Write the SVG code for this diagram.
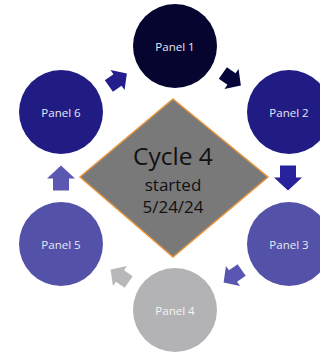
<svg xmlns="http://www.w3.org/2000/svg" width="320" height="352" viewBox="0 0 320 352">
<defs>
<style>
.lbl{font-family:"Open Sans","Liberation Sans",sans-serif;font-size:11.5px;fill:#e8e8f6;text-anchor:middle}
.ctr{font-family:"Open Sans","Liberation Sans",sans-serif;fill:#111111;text-anchor:middle}
</style>
<polygon id="arr" points="-12,-8 0,-8 0,-14 13,0 0,14 0,8 -12,8"/>
</defs>
<rect width="320" height="352" fill="#ffffff"/>
<g id="connectors">
<use href="#arr" transform="translate(231.5,79) rotate(35) scale(0.88)" fill="#06053a"/>
<use href="#arr" transform="translate(288,177.5) rotate(90)" fill="#28219c"/>
<use href="#arr" transform="translate(233,276) rotate(145) scale(0.88)" fill="#5856b0"/>
<use href="#arr" transform="translate(120,276) rotate(215) scale(0.88)" fill="#b8b8bb"/>
<use href="#arr" transform="translate(61,178.5) rotate(270)" fill="#5b58b2"/>
<use href="#arr" transform="translate(117.5,80) rotate(325) scale(0.88)" fill="#231e8c"/>
</g>
<g id="center">
<polygon points="173,99 268,177 173,257 80,177" fill="#797979" stroke="#e8963c" stroke-width="1.5"/>
<text class="ctr" x="173" y="165" font-size="24.5">Cycle 4</text>
<text class="ctr" x="173" y="191" font-size="17">started</text>
<text class="ctr" x="173" y="213" font-size="17">5/24/24</text>
</g>
<g id="panel1"><circle cx="175" cy="46" r="42" fill="#050530"/><text class="lbl" x="175" y="50.5">Panel 1</text></g>
<g id="panel2"><circle cx="289" cy="112" r="42" fill="#211c84"/><text class="lbl" x="289" y="116.5">Panel 2</text></g>
<g id="panel3"><circle cx="289" cy="244" r="42" fill="#5352a8"/><text class="lbl" x="289" y="248.5">Panel 3</text></g>
<g id="panel4"><circle cx="175" cy="310" r="42" fill="#b3b3b6"/><text class="lbl" x="175" y="314.5" style="fill:#f4f4f4">Panel 4</text></g>
<g id="panel5"><circle cx="61" cy="244" r="42" fill="#5352a8"/><text class="lbl" x="61" y="248.5">Panel 5</text></g>
<g id="panel6"><circle cx="61" cy="112" r="42" fill="#211c84"/><text class="lbl" x="61" y="116.5">Panel 6</text></g>
</svg>
